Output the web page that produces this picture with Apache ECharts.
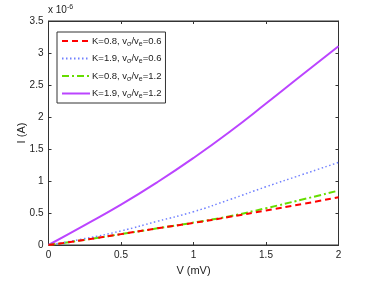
<!DOCTYPE html>
<html><head><meta charset="utf-8">
<script src="https://cdn.jsdelivr.net/npm/echarts@6/dist/echarts.min.js"></script>
<style>html,body{margin:0;padding:0;background:#fff}#c{width:374px;height:281px}</style>
</head><body><div id="c"></div>
<script>
var voltage = [0, 0.25, 0.5, 0.75, 1.0, 1.25, 1.5, 1.75, 2.0];
var seriesNames = ['K=0.8, vσ/ve=0.6', 'K=1.9, vσ/ve=0.6', 'K=0.8, vσ/ve=1.2', 'K=1.9, vσ/ve=1.2'];
var legendLabels = ['K=0.8, v{s|σ}/v{s|e}=0.6', 'K=1.9, v{s|σ}/v{s|e}=0.6', 'K=0.8, v{s|σ}/v{s|e}=1.2', 'K=1.9, v{s|σ}/v{s|e}=1.2'];
var currentK08v06 = [0, 0.08, 0.17, 0.26, 0.345, 0.44, 0.54, 0.64, 0.745];
var currentK19v06 = [0, 0.10, 0.22, 0.37, 0.52, 0.71, 0.91, 1.10, 1.29];
var currentK08v12 = [0, 0.08, 0.17, 0.26, 0.35, 0.45, 0.575, 0.71, 0.85];
var currentK19v12 = [0, 0.31, 0.63, 0.98, 1.36, 1.77, 2.21, 2.66, 3.105];
var xTicks = ['0', '0.5', '1', '1.5', '2'];
var yTicks = ['0', '0.5', '1', '1.5', '2', '2.5', '3', '3.5'];

function pairs(ys){ return voltage.map(function(x,i){ return [x, ys[i]]; }); }
var font = 'Liberation Sans, Arial, sans-serif';
var chart = echarts.init(document.getElementById('c'), null, {renderer:'canvas'});
var styles = [
  {color:'#ff0000', type:[6,4], width:2},
  {color:'#7080ff', type:[1.5,2.5], width:1.5},
  {color:'#66dd00', type:[7,3,2,3], width:2},
  {color:'#bb44ff', type:'solid', width:2}
];
var datas = [currentK08v06, currentK19v06, currentK08v12, currentK19v12];
var axisBase = {
  min:0, axisLine:{show:true, onZero:false, lineStyle:{color:'#333', width:1}},
  axisTick:{show:true, inside:true, length:3, lineStyle:{color:'#333'}},
  splitLine:{show:false}
};
chart.setOption({
  animation:false,
  textStyle:{fontFamily:font},
  grid:{left:48.5, right:35.5, top:21, bottom:32.5, show:true, borderColor:'#333', borderWidth:1, backgroundColor:'#fff'},
  xAxis:[
    Object.assign({}, axisBase, {type:'value', max:2, interval:0.5, position:'bottom',
      axisLabel:{color:'#222', fontSize:10, margin:5, fontFamily:font, formatter:function(v){ return xTicks[Math.round(v/0.5)]; }},
      name:'V (mV)', nameLocation:'middle', nameGap:20, nameMoveOverlap:false, nameTextStyle:{color:'#222', fontSize:11, fontFamily:font}}),
    Object.assign({}, axisBase, {type:'value', max:2, interval:0.5, position:'top', axisLabel:{show:false}})
  ],
  yAxis:[
    Object.assign({}, axisBase, {type:'value', max:3.5, interval:0.5, position:'left',
      axisLabel:{color:'#222', fontSize:10, margin:5, fontFamily:font, formatter:function(v){ return yTicks[Math.round(v/0.5)]; }},
      name:'I (A)', nameLocation:'middle', nameGap:21, nameMoveOverlap:false, nameRotate:90, nameTextStyle:{color:'#222', fontSize:11, fontFamily:font}}),
    Object.assign({}, axisBase, {type:'value', max:3.5, interval:0.5, position:'right', axisLabel:{show:false}})
  ],
  legend:{
    show:true, orient:'vertical', left:57, top:32, padding:[4,4,3,4],
    borderColor:'#333', borderWidth:1, backgroundColor:'#fff',
    itemWidth:28, itemHeight:8, itemGap:6,
    itemStyle:{opacity:0},
    data:seriesNames,
    formatter:function(n){ return legendLabels[seriesNames.indexOf(n)]; },
    textStyle:{fontSize:9.5, color:'#222', fontFamily:font, padding:[0,0,0,-3],
      rich:{s:{fontSize:7, verticalAlign:'bottom', padding:[6,0,0,0], color:'#222', fontFamily:font}}}
  },
  graphic:[{type:'text', left:48, top:4, style:{text:'x 10{sup|-6}', fontSize:10, fill:'#222', fontFamily:font,
    rich:{sup:{fontSize:7, verticalAlign:'top', padding:[0,0,6,0], fill:'#222', fontFamily:font}}}}],
  series: datas.map(function(d,i){
    return {name:seriesNames[i], type:'line', data:pairs(d), smooth:0.5, symbol:'none', showSymbol:false,
      lineStyle:{color:styles[i].color, type:styles[i].type, width:styles[i].width},
      itemStyle:{color:styles[i].color}, z: 10 - i};
  })
});
</script></body></html>
